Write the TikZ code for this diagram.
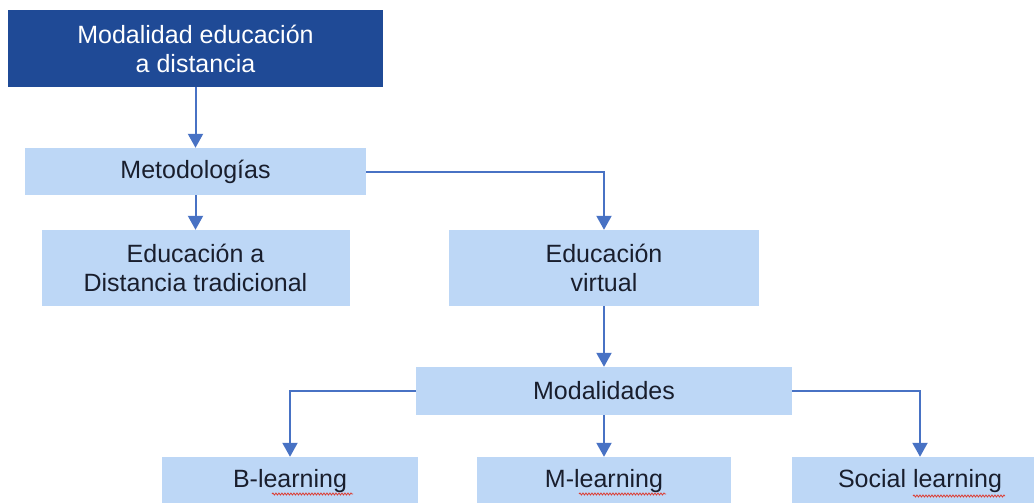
\documentclass[tikz,border=0pt]{standalone}
\usepackage{fontspec}
\setmainfont{Liberation Sans}
\usetikzlibrary{arrows.meta,decorations.pathmorphing}
\definecolor{darkbox}{RGB}{31,74,150}
\definecolor{lightbox}{RGB}{189,215,246}
\definecolor{link}{RGB}{72,114,196}
\definecolor{ink}{RGB}{25,30,45}
\definecolor{spell}{RGB}{220,60,50}

\begin{document}
\begin{tikzpicture}[x=1pt, y=-1pt,
  box/.style={fill=lightbox, text=ink, align=center, inner sep=0pt, font=\fontsize{25}{29}\selectfont},
  arr/.style={-{Triangle[width=15pt,length=14pt]}, line width=2pt, link},
  squig/.style={spell, line width=0.8pt, decorate, decoration={snake, amplitude=1pt, segment length=3pt}},
]
\useasboundingbox (0,0) rectangle (1034,503);
\clip (0,0) rectangle (1034,503);

% TOP
\node[box, fill=darkbox, text=white, minimum width=375pt, minimum height=77pt] (moddist) at (195.5,48.5) {Modalidad educación\\a distancia};
\node[box, minimum width=341pt, minimum height=47pt] (meto) at (195.5,171.5) {Metodologías};

% METHODS
\node[box, minimum width=308pt, minimum height=76pt] (trad) at (195.5,268) {Educación a\\Distancia tradicional};
\node[box, minimum width=310pt, minimum height=76pt] (virt) at (604,268) {Educación\\virtual};

% MODES
\node[box, minimum width=376pt, minimum height=48pt] (moda) at (604,391) {Modalidades};
\node[box, minimum width=256pt, minimum height=48pt] (blearn) at (290,481) {B-learning};
\node[box, minimum width=254pt, minimum height=48pt] (mlearn) at (604,481) {M-learning};
\node[box, minimum width=256pt, minimum height=48pt] (slearn) at (920,481) {Social learning};

\draw[arr] (moddist) -- (meto);
\draw[arr] (meto) -- (trad);
\draw[arr] (meto.east) -| (virt);
\draw[arr] (virt) -- (moda);
\draw[arr] (moda.west) -| (blearn);
\draw[arr] (moda) -- (mlearn);
\draw[arr] (moda.east) -| (slearn);

% spell check marks
\draw[squig] (272,494) -- (353,494);
\draw[squig] (579,494) -- (666,494);
\draw[squig] (913,496) -- (1005,496);
\end{tikzpicture}
\end{document}
